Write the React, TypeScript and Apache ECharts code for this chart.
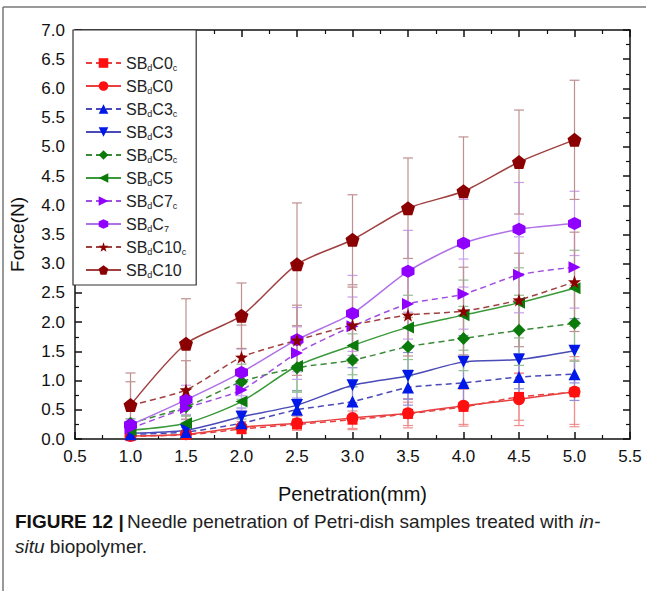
import React, { useEffect, useRef } from "react";
import * as echarts from "echarts";

const penetration = [1.0, 1.5, 2.0, 2.5, 3.0, 3.5, 4.0, 4.5, 5.0];
const xTicks = [0.5, 5.5];
const yTicks = [0, 7];

const sbC0c = [0.05, 0.07, 0.17, 0.25, 0.33, 0.43, 0.55, 0.72, 0.8];
const sbC0 = [0.05, 0.08, 0.2, 0.27, 0.36, 0.44, 0.57, 0.68, 0.81];
const sbC3c = [0.08, 0.12, 0.27, 0.5, 0.64, 0.88, 0.96, 1.06, 1.11];
const sbC3 = [0.1, 0.15, 0.38, 0.58, 0.92, 1.08, 1.32, 1.36, 1.51];
const sbC5c = [0.27, 0.55, 0.98, 1.22, 1.35, 1.58, 1.72, 1.86, 1.98];
const sbC5 = [0.15, 0.27, 0.64, 1.25, 1.6, 1.91, 2.12, 2.33, 2.58];
const sbC7c = [0.18, 0.53, 0.84, 1.47, 1.93, 2.31, 2.48, 2.81, 2.94];
const sbC7 = [0.24, 0.67, 1.14, 1.7, 2.15, 2.87, 3.35, 3.59, 3.69];
const sbC10c = [0.58, 0.84, 1.4, 1.69, 1.95, 2.12, 2.19, 2.38, 2.69];
const sbC10 = [0.58, 1.63, 2.11, 2.99, 3.41, 3.95, 4.24, 4.74, 5.12];

const errC0c = [0.03, 0.05, 0.08, 0.1, 0.15, 0.2, 0.3, 0.4, 0.55];
const errC0 = [0.03, 0.05, 0.1, 0.12, 0.2, 0.25, 0.35, 0.45, 0.6];
const errC3c = [0.05, 0.08, 0.12, 0.2, 0.25, 0.3, 0.35, 0.4, 0.45];
const errC3 = [0.05, 0.1, 0.15, 0.25, 0.3, 0.4, 0.45, 0.5, 0.55];
const errC5c = [0.08, 0.15, 0.3, 0.4, 0.45, 0.5, 0.55, 0.6, 0.65];
const errC5 = [0.08, 0.12, 0.3, 0.45, 0.5, 0.55, 0.6, 0.6, 0.65];
const errC7c = [0.1, 0.2, 0.35, 0.45, 0.5, 0.6, 0.6, 0.65, 0.7];
const errC7 = [0.1, 0.25, 0.4, 0.55, 0.65, 0.7, 0.75, 0.8, 0.55];
const errC10c = [0.4, 0.5, 0.55, 0.6, 0.65, 0.7, 0.75, 0.8, 0.85];
const errC10 = [0.55, 0.77, 0.56, 1.05, 0.77, 0.86, 0.93, 0.89, 1.02];

const seriesNames = ["SBdC0c", "SBdC0", "SBdC3c", "SBdC3", "SBdC5c", "SBdC5", "SBdC7c", "SBdC7", "SBdC10c", "SBdC10"];
const legendLabels = [
  "{n|SB}{s|d}{n|C0}{s|c}",
  "{n|SB}{s|d}{n|C0}",
  "{n|SB}{s|d}{n|C3}{s|c}",
  "{n|SB}{s|d}{n|C3}",
  "{n|SB}{s|d}{n|C5}{s|c}",
  "{n|SB}{s|d}{n|C5}",
  "{n|SB}{s|d}{n|C7}{s|c}",
  "{n|SB}{s|d}{n|C}{s|7}",
  "{n|SB}{s|d}{n|C10}{s|c}",
  "{n|SB}{s|d}{n|C10}",
];
const values = [sbC0c, sbC0, sbC3c, sbC3, sbC5c, sbC5, sbC7c, sbC7, sbC10c, sbC10];
const errors = [errC0c, errC0, errC3c, errC3, errC5c, errC5, errC7c, errC7, errC10c, errC10];

const HEX = "path://M0,-10L8.66,-5L8.66,5L0,10L-8.66,5L-8.66,-5Z";
const PENT = "path://M0,-10L9.51,-3.09L5.88,8.09L-5.88,8.09L-9.51,-3.09Z";
const STAR = "path://M0,-10L2.35,-3.24L9.51,-3.09L3.8,1.24L5.88,8.09L0,4L-5.88,8.09L-3.8,1.24L-9.51,-3.09L-2.35,-3.24Z";

const styles = [
  { marker: "#ff1010", line: "#e84040", err: "#f09090", symbol: "rect", rotate: 0, dashed: true, size: 10 },
  { marker: "#ff1010", line: "#e84040", err: "#f09090", symbol: "circle", rotate: 0, dashed: false, size: 12 },
  { marker: "#0018e8", line: "#4a4ab8", err: "#9090d8", symbol: "triangle", rotate: 0, dashed: true, size: 12 },
  { marker: "#0018e8", line: "#4a4ab8", err: "#9090d8", symbol: "triangle", rotate: 180, dashed: false, size: 12 },
  { marker: "#0a7a0a", line: "#3a8a3a", err: "#90c090", symbol: "diamond", rotate: 0, dashed: true, size: 13 },
  { marker: "#0a7a0a", line: "#3a9a3a", err: "#90c090", symbol: "triangle", rotate: 90, dashed: false, size: 12 },
  { marker: "#9000ff", line: "#a050e0", err: "#c8a0f0", symbol: "triangle", rotate: -90, dashed: true, size: 12 },
  { marker: "#9000ff", line: "#b070e8", err: "#c8a0f0", symbol: HEX, rotate: 0, dashed: false, size: 13 },
  { marker: "#8b0000", line: "#a04040", err: "#c09090", symbol: STAR, rotate: 0, dashed: true, size: 13 },
  { marker: "#8b0000", line: "#a04040", err: "#c09090", symbol: PENT, rotate: 0, dashed: false, size: 14 },
];

const FONT = "'Liberation Sans', Arial, sans-serif";

export default function App() {
  const ref = useRef<HTMLDivElement>(null);
  useEffect(() => {
    if (!ref.current) return;
    const chart = echarts.init(ref.current, undefined, { renderer: "svg" });

    const lineSeries: any[] = seriesNames.map((name, i) => ({
      type: "line",
      name,
      data: penetration.map((x, j) => [x, values[i][j]]),
      smooth: 0.25,
      symbol: styles[i].symbol,
      symbolRotate: styles[i].rotate,
      symbolSize: styles[i].size,
      itemStyle: { color: styles[i].marker, borderWidth: 0 },
      lineStyle: { color: styles[i].line, width: 1.5, type: styles[i].dashed ? [6, 4] : "solid" },
      z: 3,
    }));

    const errSeries: any[] = seriesNames.map((name, i) => ({
      type: "custom",
      name: name + " error",
      data: penetration.map((x, j) => [x, Math.max(0, values[i][j] - errors[i][j]), values[i][j] + errors[i][j]]),
      encode: { x: 0, y: [1, 2] },
      silent: true,
      z: 2,
      renderItem: (_p: any, api: any) => {
        const x = api.value(0);
        const lo = api.coord([x, api.value(1)]);
        const hi = api.coord([x, api.value(2)]);
        const hw = 5;
        const st = { stroke: styles[i].err, lineWidth: 1.2 };
        return {
          type: "group",
          children: [
            { type: "line", shape: { x1: lo[0], y1: lo[1], x2: hi[0], y2: hi[1] }, style: st },
            { type: "line", shape: { x1: lo[0] - hw, y1: lo[1], x2: lo[0] + hw, y2: lo[1] }, style: st },
            { type: "line", shape: { x1: hi[0] - hw, y1: hi[1], x2: hi[0] + hw, y2: hi[1] }, style: st },
          ],
        };
      },
    }));

    const axisCommon = {
      axisLine: { show: true, onZero: false, lineStyle: { color: "#111", width: 1.5 } },
      axisTick: { show: true, inside: true, length: 7, lineStyle: { color: "#111", width: 1.5 } },
      minorTick: { show: true, splitNumber: 2, length: 4, lineStyle: { color: "#111", width: 1.2 } },
      splitLine: { show: false },
    };

    chart.setOption({
      animation: false,
      backgroundColor: "#fff",
      grid: { left: 73, top: 30, right: 16, bottom: 152 },
      xAxis: [
        {
          type: "value",
          min: xTicks[0],
          max: xTicks[1],
          interval: 0.5,
          ...axisCommon,
          axisLabel: { color: "#111", fontSize: 17, fontFamily: FONT, margin: 9, formatter: (v: number) => v.toFixed(1) },
          name: "Penetration(mm)",
          nameLocation: "middle",
          nameGap: 45,
          nameTextStyle: { color: "#111", fontSize: 20, fontFamily: FONT },
        },
        {
          type: "value",
          position: "top",
          min: xTicks[0],
          max: xTicks[1],
          interval: 0.5,
          ...axisCommon,
          axisLabel: { show: false },
        },
      ],
      yAxis: [
        {
          type: "value",
          min: yTicks[0],
          max: yTicks[1],
          interval: 0.5,
          ...axisCommon,
          axisLabel: { color: "#111", fontSize: 17, fontFamily: FONT, margin: 10, formatter: (v: number) => v.toFixed(1) },
          name: "Force(N)",
          nameLocation: "middle",
          nameGap: 48,
          nameTextStyle: { color: "#111", fontSize: 19, fontFamily: FONT },
        },
        {
          type: "value",
          position: "right",
          min: yTicks[0],
          max: yTicks[1],
          interval: 0.5,
          ...axisCommon,
          axisLabel: { show: false },
        },
      ],
      legend: {
        show: true,
        orient: "vertical",
        left: 73,
        top: 30,
        data: seriesNames,
        padding: [24, 10, 6, 12],
        borderColor: "#333",
        borderWidth: 1.2,
        backgroundColor: "#fff",
        itemWidth: 35,
        itemHeight: 12,
        itemGap: 5,
        formatter: (name: string) => legendLabels[seriesNames.indexOf(name)],
        textStyle: {
          color: "#222",
          fontFamily: FONT,
          rich: {
            n: { fontSize: 16, fontFamily: FONT, color: "#222", lineHeight: 19 },
            s: { fontSize: 9, fontFamily: FONT, color: "#222", padding: [9, 0, 0, 0], lineHeight: 19 },
          },
        },
      },
      graphic: [
        { type: "line", shape: { x1: 3, y1: 7, x2: 646, y2: 7 }, style: { stroke: "#777", lineWidth: 1.5 } },
        { type: "line", shape: { x1: 3, y1: 7, x2: 3, y2: 591 }, style: { stroke: "#777", lineWidth: 1.5 } },
        {
          type: "text",
          left: 15,
          top: 512,
          style: {
            text: "{b|FIGURE 12 |} {n|Needle penetration of Petri-dish samples treated with }{i|in-}",
            rich: {
              b: { fontSize: 19, fontWeight: "bold", fontFamily: FONT, fill: "#111" },
              n: { fontSize: 19, fontFamily: FONT, fill: "#222" },
              i: { fontSize: 19, fontStyle: "italic", fontFamily: FONT, fill: "#222" },
            },
          },
        },
        {
          type: "text",
          left: 15,
          top: 537,
          style: {
            text: "{i|situ}{n| biopolymer.}",
            rich: {
              n: { fontSize: 19, fontFamily: FONT, fill: "#222" },
              i: { fontSize: 19, fontStyle: "italic", fontFamily: FONT, fill: "#222" },
            },
          },
        },
      ],
      series: [...errSeries, ...lineSeries],
    });

    return () => chart.dispose();
  }, []);

  return <div ref={ref} style={{ position: "fixed", left: 0, top: 0, width: 646, height: 591 }} />;
}
